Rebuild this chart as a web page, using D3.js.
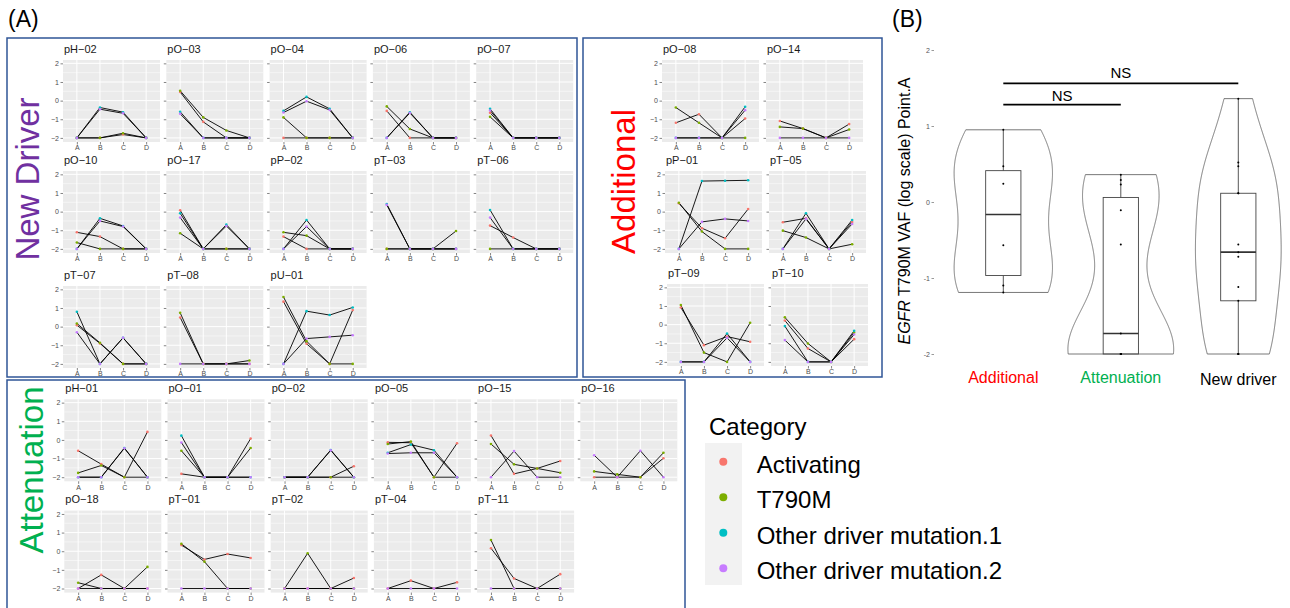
<!DOCTYPE html>
<html>
<head>
<meta charset="utf-8">
<script src="https://cdn.jsdelivr.net/npm/d3@7"></script>
<style>
  body { margin: 0; background: #fff; }
  svg { display: block; font-family: "Liberation Sans", Arial, sans-serif; }
</style>
</head>
<body>
<script>
// ---- data ----
var timepoints = ["A", "B", "C", "D"];
var categories = ["Activating", "T790M", "Other driver mutation.1", "Other driver mutation.2"];
var catColors = ["#F8766D", "#7CAE00", "#00BFC4", "#C77CFF"];
var panelTicks = [-2, -1, 0, 1, 2];

// each series: [category index, A, B, C, D]
var newDriverPanels = [
  { id: "pH−02", s: [[0, -2, -2, -1.82, -2], [1, -2, -2, -1.75, -2], [2, -2, -0.37, -0.62, -2], [3, -2, -0.46, -0.68, -2]] },
  { id: "pO−03", s: [[0, 0.46, -1.14, -2, -2], [1, 0.53, -0.9, -1.6, -2], [2, -0.6, -2, -2, -2], [3, -0.71, -2, -2, -2]] },
  { id: "pO−04", s: [[0, -2, -2, -2, -2], [1, -0.9, -2, -2, -2], [2, -0.55, 0.2, -0.44, -2], [3, -0.64, -0.03, -0.5, -2]] },
  { id: "pO−06", s: [[0, -0.55, -2, -2, -2], [1, -0.31, -1.52, -2, -2], [2, -2, -0.62, -2, -2], [3, -2, -0.66, -2, -2]] },
  { id: "pO−07", s: [[0, -0.65, -2, -2, -2], [1, -0.87, -2, -2, -2], [2, -0.44, -2, -2, -2], [3, -0.53, -2, -2, -2]] },
  { id: "pO−10", s: [[0, -1.11, -1.34, -2, -2], [1, -1.66, -2, -2, -2], [2, -2, -0.36, -0.77, -2], [3, -2, -0.5, -0.8, -2]] },
  { id: "pO−17", s: [[0, 0.07, -2, -2, -2], [1, -1.16, -2, -2, -2], [2, -0.09, -2, -0.7, -2], [3, -0.32, -2, -0.77, -2]] },
  { id: "pP−02", s: [[0, -1.34, -2, -2, -2], [1, -1.11, -1.29, -2, -2], [2, -2, -0.45, -2, -2], [3, -2, -0.8, -2, -2]] },
  { id: "pT−03", s: [[0, -2, -2, -2, -2], [1, -2, -2, -2, -1.04], [2, 0.41, -2, -2, -2], [3, 0.36, -2, -2, -2]] },
  { id: "pT−06", s: [[0, -0.75, -1.39, -2, -2], [1, -2, -2, -2, -2], [2, 0.09, -2, -2, -2], [3, -0.32, -2, -2, -2]] },
  { id: "pT−07", s: [[0, 0.08, -0.9, -2, -2], [1, 0.17, -0.87, -2, -2], [2, 0.8, -2, -0.6, -2], [3, -0.3, -2, -0.6, -2]] },
  { id: "pT−08", s: [[0, 0.49, -2, -2, -2], [1, 0.74, -2, -2, -1.82], [3, -2, -2, -2, -2]] },
  { id: "pU−01", s: [[0, 1.34, -0.92, -2, 0.89], [1, 1.59, -0.78, -2, -2], [2, -2, 0.83, 0.62, 1.03], [3, -2, -0.64, -0.55, -0.46]] }
];

var additionalPanels = [
  { id: "pO−08", s: [[0, -1.19, -0.73, -2, -0.96], [1, -0.37, -1.19, -2, -2], [2, -2, -2, -2, -0.33], [3, -2, -2, -2, -0.51]] },
  { id: "pO−14", s: [[0, -1.09, -1.5, -2, -1.26], [1, -1.41, -1.5, -2, -1.55], [3, -2, -2, -2, -2]] },
  { id: "pP−01", s: [[0, 0.45, -0.89, -1.43, 0.14], [1, 0.48, -1.07, -2, -2], [2, -2, 1.64, 1.66, 1.68], [3, -2, -0.55, -0.39, -0.5]] },
  { id: "pT−05", s: [[0, -0.57, -0.36, -2, -0.55], [1, -1.02, -1.39, -2, -1.75], [2, -2, -0.09, -2, -0.45], [3, -2, -0.39, -2, -0.66]] },
  { id: "pT−09", s: [[0, 0.92, -1.1, -0.64, -0.92], [1, 1.05, -1.5, -2, 0.1], [2, -2, -2, -0.48, -2], [3, -2, -2, -0.71, -2]] },
  { id: "pT−10", s: [[0, 0.22, -1.28, -2, -0.78], [1, 0.39, -1.01, -2, -0.42], [2, -0.08, -2, -2, -0.33], [3, -0.83, -2, -2, -0.53]] }
];

var attenuationPanels = [
  { id: "pH−01", s: [[0, -0.58, -1.3, -2, 0.43], [1, -1.77, -1.37, -2, -2], [2, -2, -2, -0.43, -2], [3, -2, -2, -0.45, -2]] },
  { id: "pO−01", s: [[0, -1.82, -2, -2, 0.07], [1, -0.58, -2, -2, -0.43], [2, 0.23, -2, -2, -2], [3, -0.14, -2, -2, -2]] },
  { id: "pO−02", s: [[0, -2, -2, -2, -1.41], [1, -2, -2, -2, -2], [2, -2, -2, -0.54, -2], [3, -2, -2, -0.56, -2]] },
  { id: "pO−05", s: [[0, -0.13, -0.15, -2, -0.18], [1, -0.22, -0.09, -2, -2], [2, -0.69, -0.25, -0.55, -2], [3, -0.73, -0.69, -0.69, -2]] },
  { id: "pO−15", s: [[0, 0.24, -1.82, -1.53, -1.13], [1, -0.22, -1.31, -1.53, -1.76], [3, -2, -0.6, -2, -2]] },
  { id: "pO−16", s: [[0, -2, -2, -2, -0.98], [1, -1.69, -1.85, -2, -0.69], [3, -0.82, -2, -0.58, -2]] },
  { id: "pO−18", s: [[0, -2, -1.27, -2, -2], [1, -1.69, -2, -2, -0.84], [3, -2, -2, -2, -2]] },
  { id: "pT−01", s: [[0, 0.33, -0.44, -0.15, -0.36], [1, 0.4, -0.56, -2, -2], [3, -2, -2, -2, -2]] },
  { id: "pT−02", s: [[0, -2, -2, -2, -1.44], [1, -2, -0.11, -2, -2], [3, -2, -2, -2, -2]] },
  { id: "pT−04", s: [[0, -2, -1.58, -2, -1.67], [3, -2, -2, -2, -2]] },
  { id: "pT−11", s: [[0, 0.16, -1.46, -2, -1.23], [1, 0.6, -2, -2, -2], [3, -2, -2, -2, -2]] }
];

// panel B: T790M VAF at point A (log scale)
var groupNames = ["Additional", "Attenuation", "New driver"];
var groupColors = ["#FF0000", "#00B050", "#000000"];
var additionalT790M = [0.95, 0.47, 0.24, -0.57, -1.10, -1.19];
var attenuationT790M = [0.36, 0.29, 0.23, -0.11, -0.56, -1.73, -2, -2, -2, -2, -2];
var newDriverT790M = [1.36, 0.52, 0.47, 0.115, 0.115, -0.56, -0.66, -0.72, -1.12, -1.3, -2, -2, -2];
var violinTicks = [-2, -1, 0, 1, 2];

// ---- svg ----
var svgWidth = 1290, svgHeight = 608;
var svg = d3.select("body").append("svg")
  .attr("width", svgWidth)
  .attr("height", svgHeight);

var fmtTick = function (d) { return d < 0 ? "\u2212" + Math.abs(d) : String(d); };

var pw = 97, ph = 82;

function drawPanel(panel, left, top, showYLabels) {
  var g = svg.append("g").attr("transform", `translate(${left}, ${top})`);

  var x = d3.scalePoint().domain(timepoints).range([0, pw]).padding(0.6);
  var y = d3.scaleLinear().domain([-2.22, 2.18]).range([ph, 0]);

  g.append("rect").attr("width", pw).attr("height", ph).attr("fill", "#EBEBEB");

  // minor grid
  g.selectAll(".minor").data([-1.5, -0.5, 0.5, 1.5]).enter().append("line")
    .attr("x1", 0).attr("x2", pw)
    .attr("y1", d => y(d)).attr("y2", d => y(d))
    .attr("stroke", "#fff").attr("stroke-width", 0.5);
  // major grid
  g.selectAll(".majorY").data(panelTicks).enter().append("line")
    .attr("x1", 0).attr("x2", pw)
    .attr("y1", d => y(d)).attr("y2", d => y(d))
    .attr("stroke", "#fff").attr("stroke-width", 1);
  g.selectAll(".majorX").data(timepoints).enter().append("line")
    .attr("x1", d => x(d)).attr("x2", d => x(d))
    .attr("y1", 0).attr("y2", ph)
    .attr("stroke", "#fff").attr("stroke-width", 1);

  // axes
  var yAxis = d3.axisLeft(y).tickValues(panelTicks).tickSize(2.5).tickPadding(1.5)
    .tickFormat(showYLabels ? fmtTick : "");
  var ya = g.append("g").call(yAxis);
  var xa = g.append("g").attr("transform", `translate(0, ${ph})`)
    .call(d3.axisBottom(x).tickSize(2.5).tickPadding(1));
  [ya, xa].forEach(function (a) {
    a.select(".domain").remove();
    a.selectAll("line").attr("stroke", "#333").attr("stroke-width", 0.6);
    a.selectAll("text").attr("fill", "#4D4D4D").style("font-size", "7px");
  });

  // title
  svg.append("text")
    .attr("x", left + 1).attr("y", top - 7.5)
    .style("font-size", "11px").attr("fill", "#1a1a1a")
    .text(panel.id);

  var line = d3.line().x((d, i) => x(timepoints[i])).y(d => y(d));
  g.selectAll(".series").data(panel.s).enter().append("path")
    .attr("d", d => line(d.slice(1)))
    .attr("fill", "none").attr("stroke", "#000").attr("stroke-width", 0.9);

  panel.s.forEach(function (ser) {
    g.selectAll(null).data(ser.slice(1)).enter().append("circle")
      .attr("cx", (d, i) => x(timepoints[i]))
      .attr("cy", d => y(d))
      .attr("r", 1.3)
      .attr("fill", catColors[ser[0]]);
  });
}

// New Driver block
newDriverPanels.forEach(function (p, i) {
  var r = Math.floor(i / 5), c = i % 5;
  drawPanel(p, 63 + c * 103.3, [60, 171, 286][r], c === 0);
});
// Additional block
additionalPanels.forEach(function (p, i) {
  var r = Math.floor(i / 2), c = i % 2;
  drawPanel(p, [662, 665, 667][r] + c * 104, [60, 171, 284][r], c === 0);
});
// Attenuation block
attenuationPanels.forEach(function (p, i) {
  var r = Math.floor(i / 6), c = i % 6;
  drawPanel(p, 64.3 + c * 103.2, [399.3, 510.6][r], c === 0);
});

// block frames
var frameColor = "#2F5597";
[[7, 38, 570, 339], [583, 38, 299, 339], [7, 380, 678, 240]].forEach(function (f) {
  svg.append("rect")
    .attr("x", f[0]).attr("y", f[1]).attr("width", f[2]).attr("height", f[3])
    .attr("fill", "none").attr("stroke", frameColor).attr("stroke-width", 1.5);
});

// block labels
[["New Driver", "#7030A0", 39, 179], ["Additional", "#FF0000", 635, 181.5], ["Attenuation", "#00B050", 43, 470]]
  .forEach(function (b) {
    svg.append("text")
      .attr("transform", `translate(${b[2]}, ${b[3]}) rotate(-90)`)
      .attr("text-anchor", "middle")
      .style("font-size", "33px").attr("fill", b[1])
      .text(b[0]);
  });

svg.append("text").attr("x", 8).attr("y", 27).style("font-size", "23px").text("(A)");
svg.append("text").attr("x", 892).attr("y", 27).style("font-size", "23px").text("(B)");

// ---- legend ----
var legend = svg.append("g");
legend.append("text").attr("x", 709).attr("y", 435).style("font-size", "24px").text("Category");
legend.append("rect").attr("x", 705).attr("y", 443).attr("width", 37).attr("height", 142).attr("fill", "#F2F2F2");
var ky = d3.scalePoint().domain(categories).range([461.7, 568.2]);
legend.selectAll(".key").data(categories).enter().append("circle")
  .attr("cx", 723.3).attr("cy", d => ky(d)).attr("r", 4)
  .attr("fill", (d, i) => catColors[i]);
legend.selectAll(".lab").data(categories).enter().append("text")
  .attr("x", 756.7).attr("y", d => ky(d) + 11)
  .style("font-size", "24px").text(d => d);

// ---- panel B: violins ----
var groups = [additionalT790M, attenuationT790M, newDriverT790M];
var vx = d3.scalePoint().domain(groupNames).range([1003.3, 1238.3]);
var vy = d3.scaleLinear().domain([-2, 2]).range([354, 50]);
var step = 117.5;

function gauss(u) { return Math.exp(-0.5 * u * u) / Math.sqrt(2 * Math.PI); }

var dens = groups.map(function (vals) {
  var s = vals.slice().sort(d3.ascending);
  var n = s.length;
  var iqr = d3.quantile(s, 0.75) - d3.quantile(s, 0.25);
  var bw = 0.9 * Math.min(d3.deviation(s), iqr / 1.34) * Math.pow(n, -0.2);
  var lo = s[0], hi = s[n - 1];
  return d3.range(512).map(function (k) {
    var v = lo + (hi - lo) * k / 511;
    return { v: v, d: d3.mean(s, xi => gauss((v - xi) / bw)) / bw };
  });
});
var maxD = d3.max(dens, ds => d3.max(ds, e => e.d));
var half = d3.scaleLinear().domain([0, maxD]).range([0, 0.45 * step]);

var vg = svg.append("g");
groups.forEach(function (vals, gi) {
  var cx = vx(groupNames[gi]);
  var area = d3.area()
    .y(e => vy(e.v))
    .x0(e => cx - half(e.d))
    .x1(e => cx + half(e.d));
  vg.append("path").attr("d", area(dens[gi]))
    .attr("fill", "none").attr("stroke", "#555").attr("stroke-width", 0.8);

  var s = vals.slice().sort(d3.ascending);
  var q1 = d3.quantile(s, 0.25), med = d3.quantile(s, 0.5), q3 = d3.quantile(s, 0.75);
  var iqr = q3 - q1;
  var wLo = d3.min(s.filter(v => v >= q1 - 1.5 * iqr));
  var wHi = d3.max(s.filter(v => v <= q3 + 1.5 * iqr));
  var bw2 = 0.15 * step;

  vg.append("line").attr("x1", cx).attr("x2", cx).attr("y1", vy(q3)).attr("y2", vy(wHi))
    .attr("stroke", "#444").attr("stroke-width", 0.9);
  vg.append("line").attr("x1", cx).attr("x2", cx).attr("y1", vy(q1)).attr("y2", vy(wLo))
    .attr("stroke", "#444").attr("stroke-width", 0.9);
  vg.append("rect").attr("x", cx - bw2).attr("width", 2 * bw2)
    .attr("y", vy(q3)).attr("height", vy(q1) - vy(q3))
    .attr("fill", "none").attr("stroke", "#444").attr("stroke-width", 0.9);
  vg.append("line").attr("x1", cx - bw2).attr("x2", cx + bw2).attr("y1", vy(med)).attr("y2", vy(med))
    .attr("stroke", "#333").attr("stroke-width", 1.6);

  vg.selectAll(null).data(vals).enter().append("circle")
    .attr("cx", cx).attr("cy", d => vy(d)).attr("r", 1)
    .attr("fill", "#000");

  vg.append("text").attr("x", cx).attr("y", gi === 2 ? 385 : 383)
    .attr("text-anchor", "middle").style("font-size", "16px")
    .attr("fill", groupColors[gi]).text(groupNames[gi]);
});

var vAxis = vg.append("g").attr("transform", "translate(934, 0)")
  .call(d3.axisLeft(vy).tickValues(violinTicks).tickSize(2.5).tickPadding(1.5).tickFormat(d => String(d)));
vAxis.select(".domain").remove();
vAxis.selectAll("line").attr("stroke", "#555").attr("stroke-width", 0.6);
vAxis.selectAll("text").attr("fill", "#555").style("font-size", "7px");

var yTitle = vg.append("text")
  .attr("transform", "translate(910, 211) rotate(-90)")
  .attr("text-anchor", "middle").style("font-size", "16px");
yTitle.append("tspan").style("font-style", "italic").text("EGFR");
yTitle.append("tspan").text(" T790M VAF (log scale) Point.A");

// significance brackets
[[groupNames[0], groupNames[2], 1.56, 78], [groupNames[0], groupNames[1], 1.28, 101]].forEach(function (b) {
  var x1 = vx(b[0]), x2 = vx(b[1]);
  vg.append("line").attr("x1", x1).attr("x2", x2).attr("y1", vy(b[2])).attr("y2", vy(b[2]))
    .attr("stroke", "#000").attr("stroke-width", 1.8);
  vg.append("text").attr("x", (x1 + x2) / 2).attr("y", b[3])
    .attr("text-anchor", "middle").style("font-size", "15px").text("NS");
});
</script>
</body>
</html>
